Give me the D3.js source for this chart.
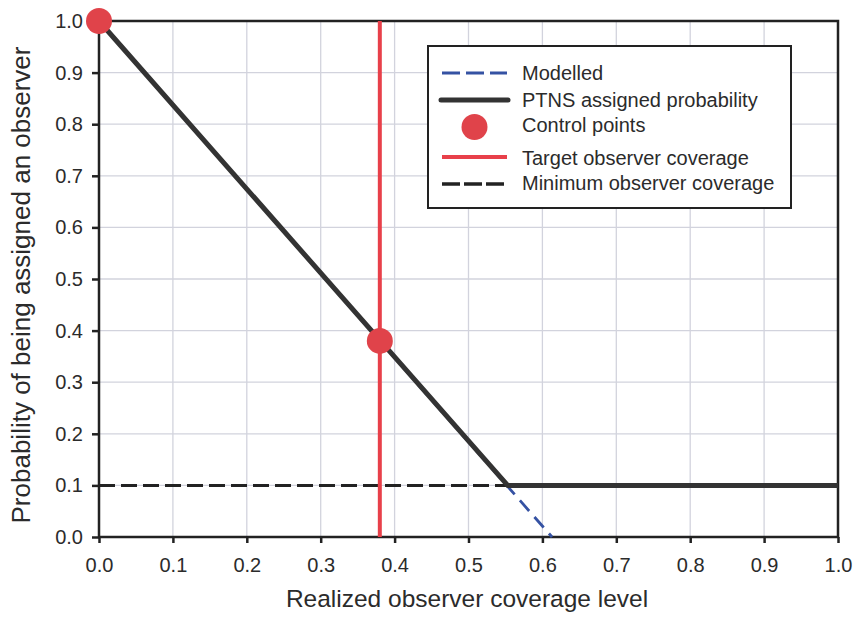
<!DOCTYPE html>
<html>
<head>
<meta charset="utf-8">
<title>observer coverage</title>
<script src="https://cdn.jsdelivr.net/npm/d3@7"></script>
<style>
body { margin:0; background:#fff; font-family:"Liberation Sans",Arial,sans-serif; }
.tick text { fill:#2b2b2b; font-size:20px; }
</style>
</head>
<body>
<svg id="chart" width="853" height="620"></svg>
<script>
// values
var xTicks = [0, 0.1, 0.2, 0.3, 0.4, 0.5, 0.6, 0.7, 0.8, 0.9, 1.0];
var yTicks = [0, 0.1, 0.2, 0.3, 0.4, 0.5, 0.6, 0.7, 0.8, 0.9, 1.0];
var modelledX = [0, 0.613];
var modelledY = [1, 0];
var ptnsX = [0, 0.553, 1.0];
var ptnsY = [1, 0.1, 0.1];
var controlX = [0, 0.38];
var controlY = [1, 0.38];
var targetX = 0.38;
var minimumY = 0.1;
var legendLabels = ["Modelled", "PTNS assigned probability", "Control points",
  "Target observer coverage", "Minimum observer coverage"];

var svg = d3.select("#chart");
var m = {l:99, r:15, t:21, b:83};
var W = 853, H = 620;
var x = d3.scaleLinear().domain([0,1]).range([m.l, W - m.r]);
var y = d3.scaleLinear().domain([0,1]).range([H - m.b, m.t]);

// grid
svg.append("g").selectAll("line").data(xTicks.slice(1)).enter().append("line")
  .attr("x1", x).attr("x2", x).attr("y1", y(0)).attr("y2", y(1))
  .attr("stroke", "#d2d3dd").attr("stroke-width", 1.3);
svg.append("g").selectAll("line").data(yTicks.slice(1)).enter().append("line")
  .attr("y1", y).attr("y2", y).attr("x1", x(0)).attr("x2", x(1))
  .attr("stroke", "#d2d3dd").attr("stroke-width", 1.3);

// frame
svg.append("rect").attr("x", x(0)).attr("y", y(1))
  .attr("width", x(1) - x(0)).attr("height", y(0) - y(1))
  .attr("fill", "none").attr("stroke", "#222").attr("stroke-width", 2.5);

// axes
var fmt = d3.format(".1f");
var xa = svg.append("g").attr("transform", "translate(0," + y(0) + ")")
  .call(d3.axisBottom(x).tickValues(xTicks).tickFormat(fmt).tickSize(6).tickPadding(15));
var ya = svg.append("g").attr("transform", "translate(" + x(0) + ",0)")
  .call(d3.axisLeft(y).tickValues(yTicks).tickFormat(fmt).tickSize(7).tickPadding(9));
[xa, ya].forEach(function(a) {
  a.select(".domain").remove();
  a.selectAll(".tick line").attr("stroke", "#222").attr("stroke-width", 2.5);
});

// lines
var line = d3.line().x(function(d){ return x(d[0]); }).y(function(d){ return y(d[1]); });
svg.append("path").datum(d3.zip(modelledX, modelledY)).attr("d", line)
  .attr("fill", "none").attr("stroke", "#3552a3").attr("stroke-width", 2.8)
  .attr("stroke-dasharray", "14,8");
svg.append("line").attr("x1", x(0)).attr("x2", x(1)).attr("y1", y(minimumY)).attr("y2", y(minimumY))
  .attr("stroke", "#222").attr("stroke-width", 3).attr("stroke-dasharray", "16,6");
svg.append("path").datum(d3.zip(ptnsX, ptnsY)).attr("d", line)
  .attr("fill", "none").attr("stroke", "#333").attr("stroke-width", 5)
  .attr("stroke-linejoin", "round");
svg.append("line").attr("x1", x(targetX)).attr("x2", x(targetX)).attr("y1", y(0)).attr("y2", y(1))
  .attr("stroke", "#e8404a").attr("stroke-width", 4);
svg.append("g").selectAll("circle").data(d3.zip(controlX, controlY)).enter().append("circle")
  .attr("cx", function(d){ return x(d[0]); }).attr("cy", function(d){ return y(d[1]); })
  .attr("r", 13).attr("fill", "#e0434a");

// axis titles
svg.append("text").attr("x", 467).attr("y", 607)
  .attr("text-anchor", "middle").attr("font-size", 24.5).attr("fill", "#2b2b2b")
  .text("Realized observer coverage level");
svg.append("text").attr("transform", "translate(30,285) rotate(-90)")
  .attr("text-anchor", "middle").attr("font-size", 26).attr("fill", "#2b2b2b")
  .text("Probability of being assigned an observer");

// legend
var lg = svg.append("g");
lg.append("rect").attr("x", 428).attr("y", 46).attr("width", 363).attr("height", 162)
  .attr("fill", "#fff").attr("stroke", "#222").attr("stroke-width", 2);
var rows = [73, 100, 127, 157, 184];
var sx1 = 442, sx2 = 507;
lg.append("line").attr("x1", sx1).attr("x2", sx2).attr("y1", rows[0]).attr("y2", rows[0])
  .attr("stroke", "#3552a3").attr("stroke-width", 2.8).attr("stroke-dasharray", "18,6");
lg.append("line").attr("x1", sx1 - 1).attr("x2", sx2 + 1).attr("y1", rows[1]).attr("y2", rows[1])
  .attr("stroke", "#333").attr("stroke-width", 5).attr("stroke-linecap", "round");
lg.append("circle").attr("cx", (sx1 + sx2) / 2).attr("cy", rows[2]).attr("r", 13).attr("fill", "#e0434a");
lg.append("line").attr("x1", sx1).attr("x2", sx2).attr("y1", rows[3]).attr("y2", rows[3])
  .attr("stroke", "#e8404a").attr("stroke-width", 4);
lg.append("line").attr("x1", sx1).attr("x2", sx2).attr("y1", rows[4]).attr("y2", rows[4])
  .attr("stroke", "#222").attr("stroke-width", 3.5).attr("stroke-dasharray", "18,4");
var base = [80, 107, 132, 165, 190];
lg.selectAll("text").data(legendLabels).enter().append("text")
  .attr("x", 522).attr("y", function(d, i){ return base[i]; })
  .attr("font-size", 20).attr("fill", "#2b2b2b").text(function(d){ return d; });
</script>
</body>
</html>
